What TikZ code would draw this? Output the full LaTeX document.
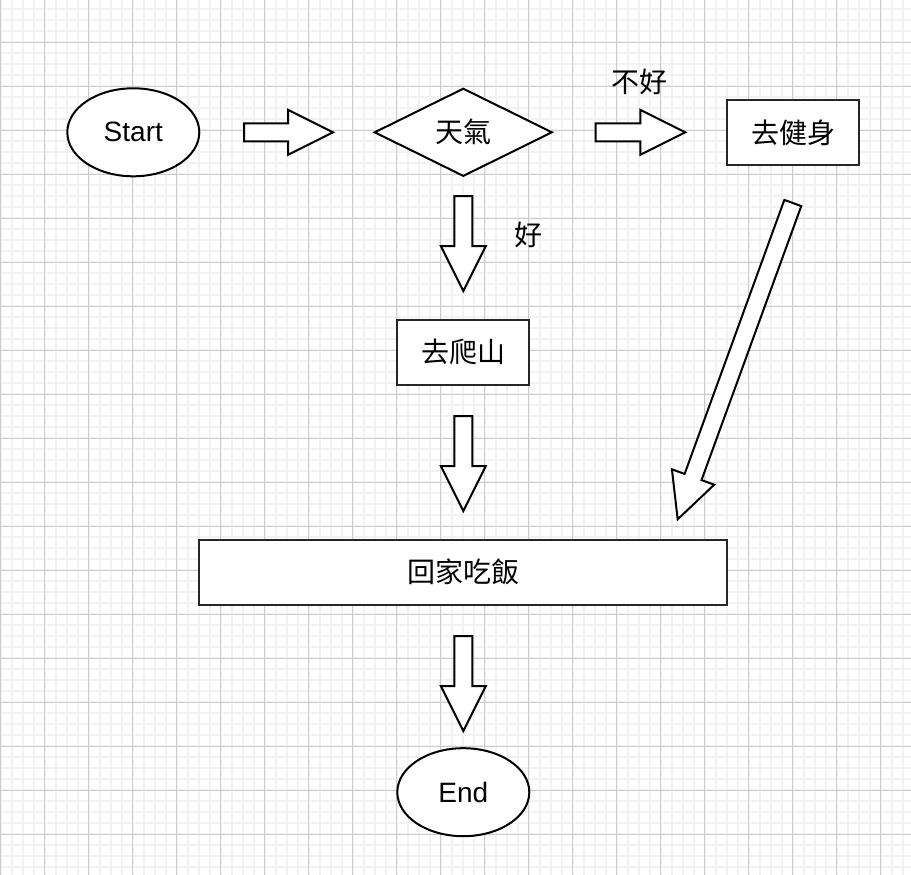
\documentclass[tikz,border=0pt]{standalone}
\usepackage{fontspec}
\setmainfont{Liberation Sans}
\newfontfamily\cjk{Noto Sans CJK TC}
\usetikzlibrary{shapes.geometric}
\tikzset{
  every node/.style={font=\fontsize{28}{32}\selectfont},
  flowbox/.style={draw, line width=2pt, inner sep=0pt, fill=white},
  terminal/.style={flowbox, ellipse, minimum width=132pt, minimum height=88pt},
  process/.style={flowbox, draw=black!85, rectangle, minimum height=65pt},
  decision/.style={flowbox, diamond, minimum width=178pt, minimum height=88pt},
  minorline/.style={black!5, line width=1.8pt},
  majorline/.style={black!20, line width=1pt},
  arrowline/.style={draw, fill=white, line width=2pt, line join=miter},
  blockarrow/.pic={
    \path[arrowline] (0,-9) -- (#1-45,-9) -- (#1-45,-22.5) -- (#1,0)
      -- (#1-45,22.5) -- (#1-45,9) -- (0,9) -- cycle;
  }
}
\begin{document}
\begin{tikzpicture}[x=1pt,y=-1pt]
      \useasboundingbox (0,0) rectangle (911,875);
      % grid
      \foreach \i in {0,...,82} \draw[minorline] ({0.7+11*\i},0) -- ({0.7+11*\i},875);
      \foreach \j in {0,...,78} \draw[minorline] (0,{9.3+11*\j}) -- (911,{9.3+11*\j});
      \foreach \i in {0,...,20} \draw[majorline] ({0.7+44*\i},0) -- ({0.7+44*\i},875);
      \foreach \j in {0,...,18} \draw[majorline] (0,{42.3+44*\j}) -- (911,{42.3+44*\j});
      % shapes
      \node[terminal] (start) at (133.3,132.3) {Start};
      \node[decision] (weather) at (463.3,132.3) {\cjk 天氣};
      \node[process, minimum width=132pt] (gym) at (793.3,132.5) {\cjk 去健身};
      \node[process, minimum width=132pt] (climb) at (463.3,352.2) {\cjk 去爬山};
      \node[process, minimum width=528pt] (dinner) at (463.3,572) {\cjk 回家吃飯};
      \node[terminal] (end) at (463.3,792.2) {End};
      \node (bad) at (639,81.7) {\cjk 不好};
      \node (good) at (528.3,235) {\cjk 好};
      % block arrows
      \pic at ([xshift=43.7pt]start.east) {blockarrow=89};
      \pic at ([xshift=42.4pt]weather.east) {blockarrow=89.6};
      \pic[rotate=-90] at ([yshift=-18.7pt]weather.south) {blockarrow=95};
      \pic[rotate=-90] at ([yshift=-30.3pt]climb.south) {blockarrow=95};
      \pic[rotate=-90] at ([yshift=-30.5pt]dinner.south) {blockarrow=95};
      \pic[rotate=-110] at ([xshift=-0.5pt,yshift=-37pt]gym.south) {blockarrow=336.6};
    \end{tikzpicture}
\end{document}
